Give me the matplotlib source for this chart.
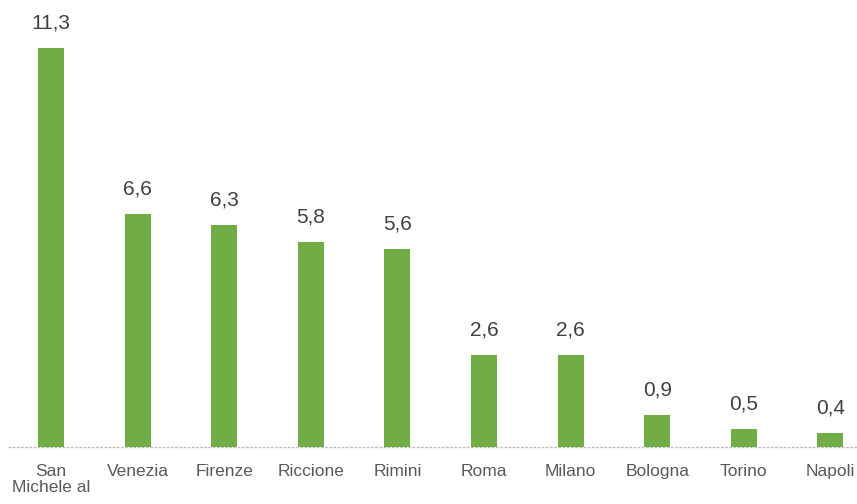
import matplotlib
matplotlib.use("Agg")
import matplotlib.pyplot as plt

cities = ["San\nMichele al", "Venezia", "Firenze", "Riccione", "Rimini",
          "Roma", "Milano", "Bologna", "Torino", "Napoli"]
values = [11.3, 6.6, 6.3, 5.8, 5.6, 2.6, 2.6, 0.9, 0.5, 0.4]

plt.rcParams['font.family'] = ['Liberation Sans', 'DejaVu Sans']

fig = plt.figure(figsize=(8.57, 5.04), dpi=100)
ax = fig.add_axes([0, 57 / 504, 1, 447 / 504])

x = list(range(len(cities)))
bars = ax.bar(x, values, width=0.30, color='#70ad47', zorder=2)

# dotted baseline under the bars
ax.plot([-0.5, 9.5], [0, 0], color='#bfbfbf', lw=1, ls=(0, (2, 1)), zorder=1, clip_on=False)

for b, v in zip(bars, values):
    ax.annotate(f"{v:.1f}".replace('.', ','),
                (b.get_x() + b.get_width() / 2, v),
                xytext=(0, 18), textcoords='offset points',
                ha='center', va='center', fontsize=15, color='#404040')

ax.set_xlim(-0.589, 9.307)
ax.set_ylim(0, 12.66)
ax.set_xticks(x)
ax.set_xticklabels(cities, fontsize=12.5, color='#595959', va='top', linespacing=1.1)
ax.tick_params(axis='x', length=0, pad=12)
ax.set_yticks([])
for s in ax.spines.values():
    s.set_visible(False)

fig.savefig("out.png", dpi=100)
